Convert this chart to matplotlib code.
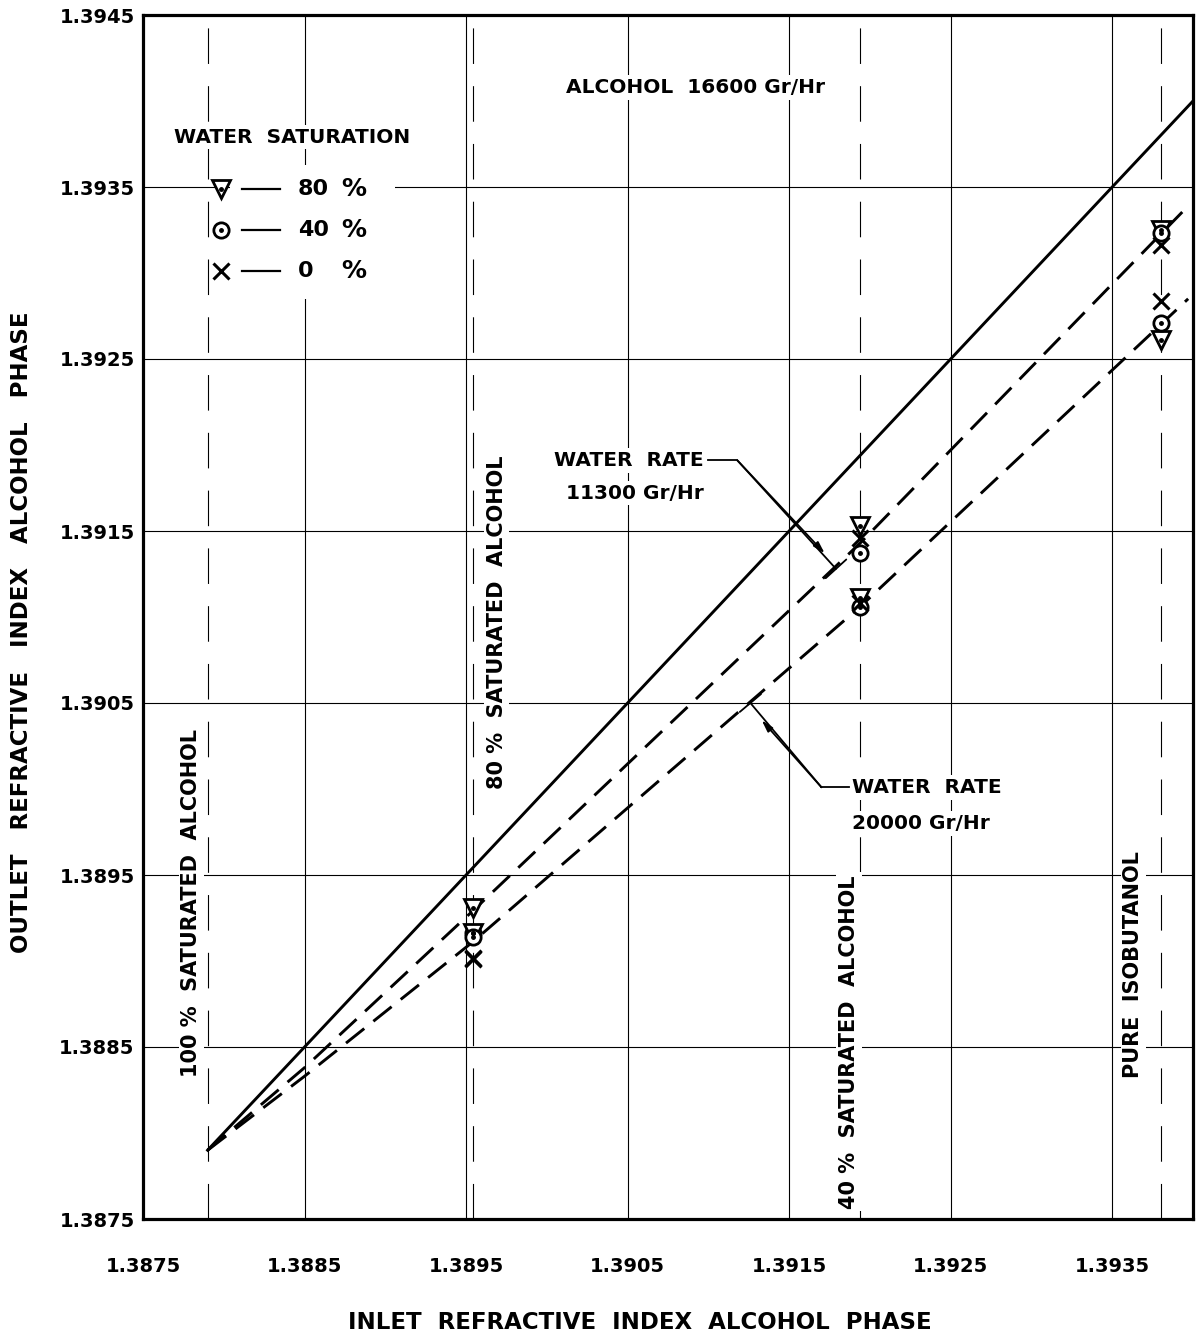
import numpy as np
import matplotlib
matplotlib.use("Agg")
import matplotlib.pyplot as plt
from matplotlib.patches import Rectangle

plt.rcParams['font.family'] = ['DejaVu Sans']
plt.rcParams['font.weight'] = 'bold'

# inlet index of the alcohol feeds (vertical reference lines)
feed_names = ['100 %  SATURATED  ALCOHOL', '80 %  SATURATED  ALCOHOL',
              '40 %  SATURATED  ALCOHOL', 'PURE  ISOBUTANOL']
feed_ri = [1.3879, 1.38954, 1.39194, 1.39380]

# measured outlet index, runs at 80 % / 40 % saturated alcohol and pure isobutanol
inlet_ri = [1.38954, 1.39194, 1.39380]
rate11300_w80 = [1.38931, 1.39153, 1.39325]
rate11300_w40 = [1.38916, 1.39137, 1.39323]
rate11300_w0 = [1.38902, 1.39146, 1.39316]
rate20000_w80 = [1.38916, 1.39111, 1.39261]
rate20000_w40 = [1.38914, 1.39106, 1.39271]
rate20000_w0 = [1.38901, 1.39108, 1.39284]

# outlet = inlet line and the two faired water-rate curves
equal_x = [1.3879, 1.3940]
equal_y = [1.3879, 1.3940]
curve11300_x = [1.3879, 1.3885, 1.38954, 1.39194, 1.39396]
curve11300_y = [1.3879, 1.38838, 1.38929, 1.39143, 1.39338]
curve20000_x = [1.3879, 1.3885, 1.38954, 1.39194, 1.39397]
curve20000_y = [1.3879, 1.38833, 1.38911, 1.39106, 1.39285]

ticks_x = [1.3875, 1.3885, 1.3895, 1.3905, 1.3915, 1.3925, 1.3935]
ticks_y = [1.3875, 1.3885, 1.3895, 1.3905, 1.3915, 1.3925, 1.3935, 1.3945]

fig = plt.figure(figsize=(11.96, 13.39), dpi=100)
ax = fig.add_axes([143 / 1196, 120 / 1339, 1050 / 1196, 1204 / 1339])
ax.set_xlim(1.3875, 1.3940)
ax.set_ylim(1.3875, 1.3945)

ax.set_xticks(ticks_x)
ax.set_yticks(ticks_y)
ax.set_xticklabels([f'{t:.4f}' for t in ticks_x])
ax.set_yticklabels([f'{t:.4f}' for t in ticks_y])
ax.tick_params(length=0, labelsize=14)
ax.tick_params(axis='x', pad=27)
ax.tick_params(axis='y', pad=6)
ax.grid(True, color='black', lw=0.8)
ax.set_axisbelow(True)
for sp in ax.spines.values():
    sp.set_linewidth(2.3)

for xr in feed_ri:
    ax.axvline(xr, color='black', lw=0.8, linestyle=(0, (32, 20)), zorder=1)

ax.plot(equal_x, equal_y, color='black', lw=2.1, zorder=3)
ax.plot(curve11300_x, curve11300_y, color='black', lw=2.1, linestyle=(0, (8, 4)), zorder=3)
ax.plot(curve20000_x, curve20000_y, color='black', lw=2.1, linestyle=(0, (8, 4)), zorder=3)


def tri(xs, ys):
    ax.plot(xs, ys, linestyle='none', marker='v', ms=13, mfc='white', mec='black', mew=2, zorder=5)
    ax.plot(xs, ys, linestyle='none', marker='o', ms=2.5, color='black', zorder=6)


def circ(xs, ys):
    ax.plot(xs, ys, linestyle='none', marker='o', ms=11, mfc='white', mec='black', mew=2, zorder=5)
    ax.plot(xs, ys, linestyle='none', marker='o', ms=2.5, color='black', zorder=6)


def cross(xs, ys):
    ax.plot(xs, ys, linestyle='none', marker='x', ms=12, color='black', mew=2.2, zorder=5)


for w80, w40, w0 in [(rate11300_w80, rate11300_w40, rate11300_w0),
                     (rate20000_w80, rate20000_w40, rate20000_w0)]:
    tri(inlet_ri, w80)
    circ(inlet_ri, w40)
    cross(inlet_ri, w0)

white = dict(facecolor='white', edgecolor='none', pad=2)

# water saturation key
ax.add_patch(Rectangle((1.38804, 1.39285), 0.00102, 0.00078,
                       facecolor='white', edgecolor='none', zorder=2))
ax.text(1.38769, 1.39379, 'WATER  SATURATION', fontsize=14.5, va='center', ha='left',
        bbox=white, zorder=4)
key_y = [1.39349, 1.39325, 1.39301]
key_num = ['80', '40', '0']
tri([1.38798], [key_y[0]])
circ([1.38798], [key_y[1]])
cross([1.38798], [key_y[2]])
for ky, num in zip(key_y, key_num):
    ax.plot([1.38811, 1.38835], [ky, ky], color='black', lw=1.6, zorder=5)
    ax.text(1.38846, ky, num, fontsize=16, va='center', ha='left', zorder=5)
    ax.text(1.38873, ky, '%', fontsize=18, va='center', ha='left', zorder=5)

ax.text(1.39092, 1.39408, 'ALCOHOL  16600 Gr/Hr', fontsize=14.5, ha='center', va='center',
        bbox=white, zorder=4)

# rotated feed labels
feed_label_pos = [(1.38780, 1.38934), (1.38969, 1.39097), (1.39187, 1.38853), (1.39363, 1.38898)]
for name, (tx, ty) in zip(feed_names, feed_label_pos):
    ax.text(tx, ty, name, rotation=90, fontsize=15, ha='center', va='center',
            bbox=white, zorder=4)

# water rate call-outs
ax.text(1.39097, 1.39191, 'WATER  RATE', fontsize=14.5, ha='right', va='center', bbox=white, zorder=4)
ax.text(1.39097, 1.39172, '11300 Gr/Hr', fontsize=14.5, ha='right', va='center', bbox=white, zorder=4)
ax.plot([1.39100, 1.39118], [1.39191, 1.39191], color='black', lw=1.3, zorder=4)
ax.annotate('', xy=(1.39179, 1.39128), xytext=(1.39118, 1.39191),
            arrowprops=dict(arrowstyle='-[,widthB=1.0,lengthB=0', lw=1.3, color='black',
                            shrinkA=0, shrinkB=0), zorder=4)
ax.annotate('', xy=(1.39172, 1.39137), xytext=(1.39118, 1.39191),
            arrowprops=dict(arrowstyle='-|>,head_length=0.7,head_width=0.2', lw=1.3,
                            color='black', shrinkA=0, shrinkB=0), zorder=4)

ax.text(1.39189, 1.39001, 'WATER  RATE', fontsize=14.5, ha='left', va='center', bbox=white, zorder=4)
ax.text(1.39189, 1.38980, '20000 Gr/Hr', fontsize=14.5, ha='left', va='center', bbox=white, zorder=4)
ax.plot([1.39170, 1.39187], [1.39001, 1.39001], color='black', lw=1.3, zorder=4)
ax.annotate('', xy=(1.39126, 1.39050), xytext=(1.39170, 1.39001),
            arrowprops=dict(arrowstyle='-[,widthB=1.0,lengthB=0', lw=1.3, color='black',
                            shrinkA=0, shrinkB=0), zorder=4)
ax.annotate('', xy=(1.39133, 1.39040), xytext=(1.39170, 1.39001),
            arrowprops=dict(arrowstyle='-|>,head_length=0.7,head_width=0.2', lw=1.3,
                            color='black', shrinkA=0, shrinkB=0), zorder=4)

fig.text(0.018, 0.528, 'OUTLET   REFRACTIVE   INDEX   ALCOHOL   PHASE', rotation=90,
         fontsize=16.5, ha='center', va='center')
fig.text(0.535, 0.012, 'INLET  REFRACTIVE  INDEX  ALCOHOL  PHASE',
         fontsize=16.5, ha='center', va='center')

fig.savefig('out.png', dpi=100)
